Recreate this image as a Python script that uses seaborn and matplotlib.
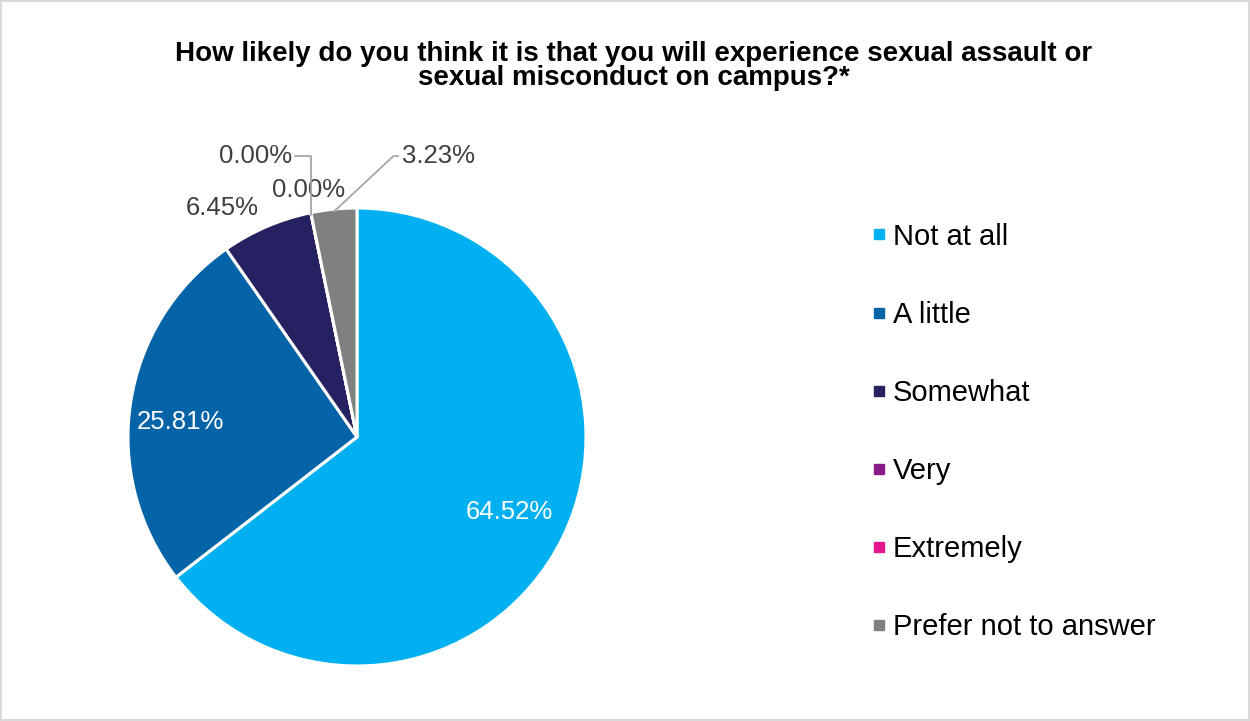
import numpy as np
import matplotlib.pyplot as plt
import seaborn as sns
from matplotlib.lines import Line2D

# chart data
categories = ["Not at all", "A little", "Somewhat", "Very", "Extremely", "Prefer not to answer"]
shares = [64.52, 25.81, 6.45, 0.00, 0.00, 3.23]
colors = ["#00B0F0", "#0563A8", "#262262", "#8B1A89", "#E5168C", "#808080"]
title = ("How likely do you think it is that you will experience sexual assault or\n"
         "sexual misconduct on campus?*")

sns.set_theme(style="white")
plt.rcParams["font.family"] = ["Liberation Sans", "DejaVu Sans"]

fig = plt.figure(figsize=(12.5, 7.21), dpi=100, edgecolor="#D9D9D9", linewidth=1.5)
ax = fig.add_axes([128 / 1250, 55 / 721, 458 / 1250, 458 / 721])

wedges, _ = ax.pie(shares, colors=colors, startangle=90, counterclock=False,
                   wedgeprops=dict(edgecolor="white", linewidth=2.2))
ax.set_xlim(-1, 1)
ax.set_ylim(-1, 1)
ax.set_aspect("equal")


def mid_point(w, r=1.0):
    a = np.deg2rad((w.theta1 + w.theta2) / 2)
    return r * np.cos(a), r * np.sin(a)


# labels inside the two big slices
ax.text(*mid_point(wedges[0], 0.74), f"{shares[0]:.2f}%", color="white",
        fontsize=18.5, ha="center", va="center")
ax.text(*mid_point(wedges[1], 0.78), f"{shares[1]:.2f}%", color="white",
        fontsize=18.5, ha="center", va="top")

# labels outside the small slices
ax.text(-0.59, 1.0, f"{shares[2]:.2f}%", color="#404040", fontsize=18.5, ha="center", va="center")
ax.text(-0.21, 1.08, f"{shares[3]:.2f}%", color="#404040", fontsize=18.5, ha="center", va="center")

leader = dict(arrowstyle="-", color="#A6A6A6", lw=1.3, shrinkA=0, shrinkB=0)
ax.annotate(f"{shares[4]:.2f}%", xy=mid_point(wedges[4], 0.99), xytext=(-0.445, 1.227),
            color="#404040", fontsize=18.5, ha="center", va="center",
            arrowprops=dict(leader, relpos=(1, 0.5), connectionstyle="angle,angleA=0,angleB=90,rad=0"))
ax.annotate(f"{shares[5]:.2f}%", xy=mid_point(wedges[5], 0.99), xytext=(0.354, 1.227),
            color="#404040", fontsize=18.5, ha="center", va="center",
            arrowprops=dict(leader, relpos=(0, 0.5), connectionstyle="angle,angleA=0,angleB=43,rad=0"))

handles = [Line2D([], [], marker="s", ls="", color=c, markersize=6.5) for c in colors]
ax.legend(handles, categories, loc="upper left", bbox_to_anchor=(858 / 1250, 1 - 208 / 721),
          bbox_transform=fig.transFigure, frameon=False, fontsize=21, borderpad=0,
          handlelength=0.45, handletextpad=0.25, labelspacing=1.72, labelcolor="black")

fig.text(634 / 1250, 1 - 66 / 721, title, ha="center", va="center", fontsize=20,
         fontweight="bold", linespacing=0.92, color="black")

fig.savefig("out.png", dpi=100)
